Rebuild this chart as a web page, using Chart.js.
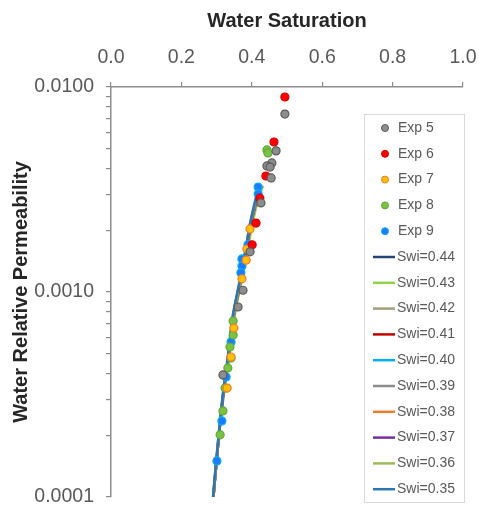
<!DOCTYPE html>
<html>
<head>
<meta charset="utf-8">
<script src="https://cdn.jsdelivr.net/npm/chart.js@4.4.1/dist/chart.umd.min.js"></script>
<style>
    html, body { margin: 0; padding: 0; background: #fff; }
</style>
</head>
<body>
<canvas id="kwChart" width="479" height="510"></canvas>
<script>
// Experimental points (water saturation, water relative permeability)
const exp5Sw = [0.494, 0.469, 0.457, 0.443, 0.452, 0.455, 0.426, 0.395, 0.375, 0.361, 0.318];
const exp5Kw = [0.00738, 0.00488, 0.00426, 0.00412, 0.00407, 0.00360, 0.00272, 0.00157, 0.00102, 0.000845, 0.000394];

const exp6Sw = [0.494, 0.463, 0.440, 0.423, 0.412, 0.401];
const exp6Kw = [0.00894, 0.00539, 0.00368, 0.00287, 0.00217, 0.00170];

const exp7Sw = [0.395, 0.386, 0.384, 0.372, 0.349, 0.341, 0.330];
const exp7Kw = [0.00203, 0.00162, 0.00143, 0.00116, 0.000667, 0.000482, 0.000340];

const exp8Sw = [0.443, 0.446, 0.347, 0.347, 0.338, 0.341, 0.332, 0.324, 0.318, 0.310];
const exp8Kw = [0.00493, 0.00477, 0.000722, 0.000617, 0.000539, 0.000476, 0.000426, 0.000340, 0.000263, 0.000201];

const exp9Sw = [0.418, 0.418, 0.389, 0.372, 0.372, 0.369, 0.341, 0.327, 0.315, 0.301];
const exp9Kw = [0.00325, 0.00301, 0.00170, 0.00145, 0.00134, 0.00124, 0.000570, 0.000385, 0.000235, 0.000150];

// Model curves: shared permeability levels, saturation per Swi
const lineKw = [0.0001, 0.00015, 0.00022, 0.00033, 0.0005, 0.00075, 0.0011, 0.0016, 0.0022, 0.0029, 0.0033];
const swi44Sw = [0.291, 0.300, 0.309, 0.321, 0.336, 0.349, 0.368, 0.386, 0.400, 0.417];
const swi43Sw = [0.291, 0.300, 0.310, 0.322, 0.337, 0.350, 0.369, 0.388, 0.403, 0.420, 0.432];
const swi42Sw = [0.291, 0.300, 0.309, 0.321, 0.336, 0.349, 0.367, 0.385, 0.399, 0.416];
const swi41Sw = [0.291, 0.300, 0.309, 0.320, 0.335, 0.348, 0.367, 0.385, 0.399, 0.416];
const swi40Sw = [0.291, 0.300, 0.309, 0.320, 0.335, 0.348, 0.366, 0.384, 0.398, 0.415];
const swi39Sw = [0.291, 0.300, 0.309, 0.320, 0.335, 0.347, 0.366, 0.384, 0.398, 0.415];
const swi38Sw = [0.291, 0.300, 0.309, 0.320, 0.334, 0.347, 0.366, 0.383, 0.397, 0.414];
const swi37Sw = [0.290, 0.299, 0.309, 0.320, 0.334, 0.346, 0.365, 0.383, 0.397, 0.413];
const swi36Sw = [0.290, 0.299, 0.308, 0.319, 0.334, 0.346, 0.365, 0.382, 0.396, 0.413];
const swi35Sw = [0.290, 0.299, 0.308, 0.319, 0.333, 0.345, 0.364, 0.382, 0.396, 0.412];

const xTicks = [0.0, 0.2, 0.4, 0.6, 0.8, 1.0];
const yDecades = [0.0001, 0.001, 0.01];

function pairs(sw, kw) {
    return sw.map((s, i) => ({ x: s, y: kw[i] }));
}

function expSet(label, sw, kw, fill, border) {
    return {
        label: label,
        data: pairs(sw, kw),
        backgroundColor: fill,
        borderColor: border,
        borderWidth: 1.2,
        pointRadius: 4,
        pointHoverRadius: 4,
        showLine: false,
        order: 0
    };
}

function lineSet(label, sw, color, order) {
    return {
        label: label,
        data: pairs(sw, lineKw),
        borderColor: color,
        backgroundColor: color,
        borderWidth: 2.5,
        pointRadius: 0,
        showLine: true,
        tension: 0.3,
        order: order
    };
}

const datasets = [
    expSet('Exp 5', exp5Sw, exp5Kw, '#8c8c8c', '#5a5a5a'),
    expSet('Exp 6', exp6Sw, exp6Kw, '#ff0000', '#d00000'),
    expSet('Exp 7', exp7Sw, exp7Kw, '#ffc000', '#ed7d31'),
    expSet('Exp 8', exp8Sw, exp8Kw, '#7cc242', '#5fa83a'),
    expSet('Exp 9', exp9Sw, exp9Kw, '#1e7bff', '#00b0f0'),
    lineSet('Swi=0.44', swi44Sw, '#264478', 10),
    lineSet('Swi=0.43', swi43Sw, '#92d050', 9),
    lineSet('Swi=0.42', swi42Sw, '#a59f7a', 8),
    lineSet('Swi=0.41', swi41Sw, '#c00000', 7),
    lineSet('Swi=0.40', swi40Sw, '#00b0f0', 6),
    lineSet('Swi=0.39', swi39Sw, '#8c8c8c', 5),
    lineSet('Swi=0.38', swi38Sw, '#ed7d31', 4),
    lineSet('Swi=0.37', swi37Sw, '#7030a0', 3),
    lineSet('Swi=0.36', swi36Sw, '#9bbb59', 2),
    lineSet('Swi=0.35', swi35Sw, '#2e75b6', 1)
];

// legend drawn as a framed box inside the plot, like the spreadsheet chart
const legendBox = {
    id: 'legendBox',
    afterDraw(chart) {
        const ctx = chart.ctx;
        const left = 364, top = 114, width = 100, height = 388, rowH = 25.8;
        ctx.save();
        ctx.fillStyle = '#ffffff';
        ctx.fillRect(left, top, width, height);
        ctx.strokeStyle = '#d9d9d9';
        ctx.lineWidth = 1;
        ctx.strokeRect(left + 0.5, top + 0.5, width, height);
        ctx.font = '14px "Liberation Sans", Arial, sans-serif';
        ctx.textBaseline = 'middle';
        ctx.textAlign = 'left';
        chart.data.datasets.forEach((ds, i) => {
            const y = top + 14 + i * rowH;
            if (ds.showLine) {
                ctx.strokeStyle = ds.borderColor;
                ctx.lineWidth = 2.5;
                ctx.beginPath();
                ctx.moveTo(left + 9, y);
                ctx.lineTo(left + 31, y);
                ctx.stroke();
                ctx.fillStyle = '#595959';
                ctx.fillText(ds.label, left + 33, y);
            } else {
                ctx.fillStyle = ds.backgroundColor;
                ctx.strokeStyle = ds.borderColor;
                ctx.lineWidth = 1;
                ctx.beginPath();
                ctx.arc(left + 21, y, 3.5, 0, Math.PI * 2);
                ctx.fill();
                ctx.stroke();
                ctx.fillStyle = '#595959';
                ctx.fillText(ds.label, left + 34, y);
            }
        });
        ctx.restore();
    }
};

const ctx = document.getElementById('kwChart');
ctx.chart = new Chart(ctx, {
    type: 'scatter',
    data: { datasets: datasets },
    plugins: [legendBox],
    options: {
        responsive: false,
        animation: false,
        layout: { padding: { left: 0, top: 0, right: 16, bottom: 13 } },
        plugins: {
            legend: { display: false },
            tooltip: { enabled: false }
        },
        scales: {
            x: {
                type: 'linear',
                position: 'top',
                min: 0,
                max: 1,
                afterBuildTicks: (scale) => {
                    scale.ticks = xTicks.map(v => ({ value: v }));
                },
                afterFit: (scale) => {
                    scale.height = 87;
                    scale.paddingLeft = 0;
                    scale.paddingRight = 0;
                },
                ticks: {
                    padding: 13,
                    color: '#595959',
                    font: { family: '"Liberation Sans", Arial, sans-serif', size: 19.5 },
                    callback: (v) => Number(v).toFixed(1)
                },
                grid: {
                    drawOnChartArea: false,
                    drawTicks: true,
                    tickLength: 5,
                    color: '#8c8c8c',
                    lineWidth: 1.2
                },
                border: { display: true, color: '#8c8c8c', width: 1.5 },
                title: {
                    display: true,
                    text: 'Water Saturation',
                    color: '#262626',
                    font: { family: '"Liberation Sans", Arial, sans-serif', size: 20, weight: 'bold' },
                    padding: { top: 9, bottom: 4 }
                }
            },
            y: {
                type: 'logarithmic',
                min: 0.0001,
                max: 0.01,
                afterBuildTicks: (scale) => {
                    const t = [];
                    for (let d = 0; d < yDecades.length - 1; d++) {
                        for (let n = 1; n < 10; n++) {
                            t.push({ value: yDecades[d] * n, major: n === 1 });
                        }
                    }
                    t.push({ value: yDecades[yDecades.length - 1], major: true });
                    scale.ticks = t;
                },
                afterFit: (scale) => {
                    scale.width = 111;
                    scale.paddingTop = 0;
                    scale.paddingBottom = 0;
                },
                ticks: {
                    autoSkip: false,
                    padding: 12,
                    color: '#595959',
                    font: { family: '"Liberation Sans", Arial, sans-serif', size: 19.5 },
                    callback: (v) => yDecades.some(d => Math.abs(d - v) < d * 1e-6) ? Number(v).toFixed(4) : ''
                },
                grid: {
                    drawOnChartArea: false,
                    drawTicks: true,
                    tickLength: 5,
                    color: '#8c8c8c',
                    lineWidth: 1.2
                },
                border: { display: true, color: '#8c8c8c', width: 1.5 },
                title: {
                    display: true,
                    text: 'Water Relative Permeability',
                    color: '#262626',
                    font: { family: '"Liberation Sans", Arial, sans-serif', size: 20, weight: 'bold' },
                    padding: { top: 9, bottom: 4 }
                }
            }
        }
    }
});
</script>
</body>
</html>
